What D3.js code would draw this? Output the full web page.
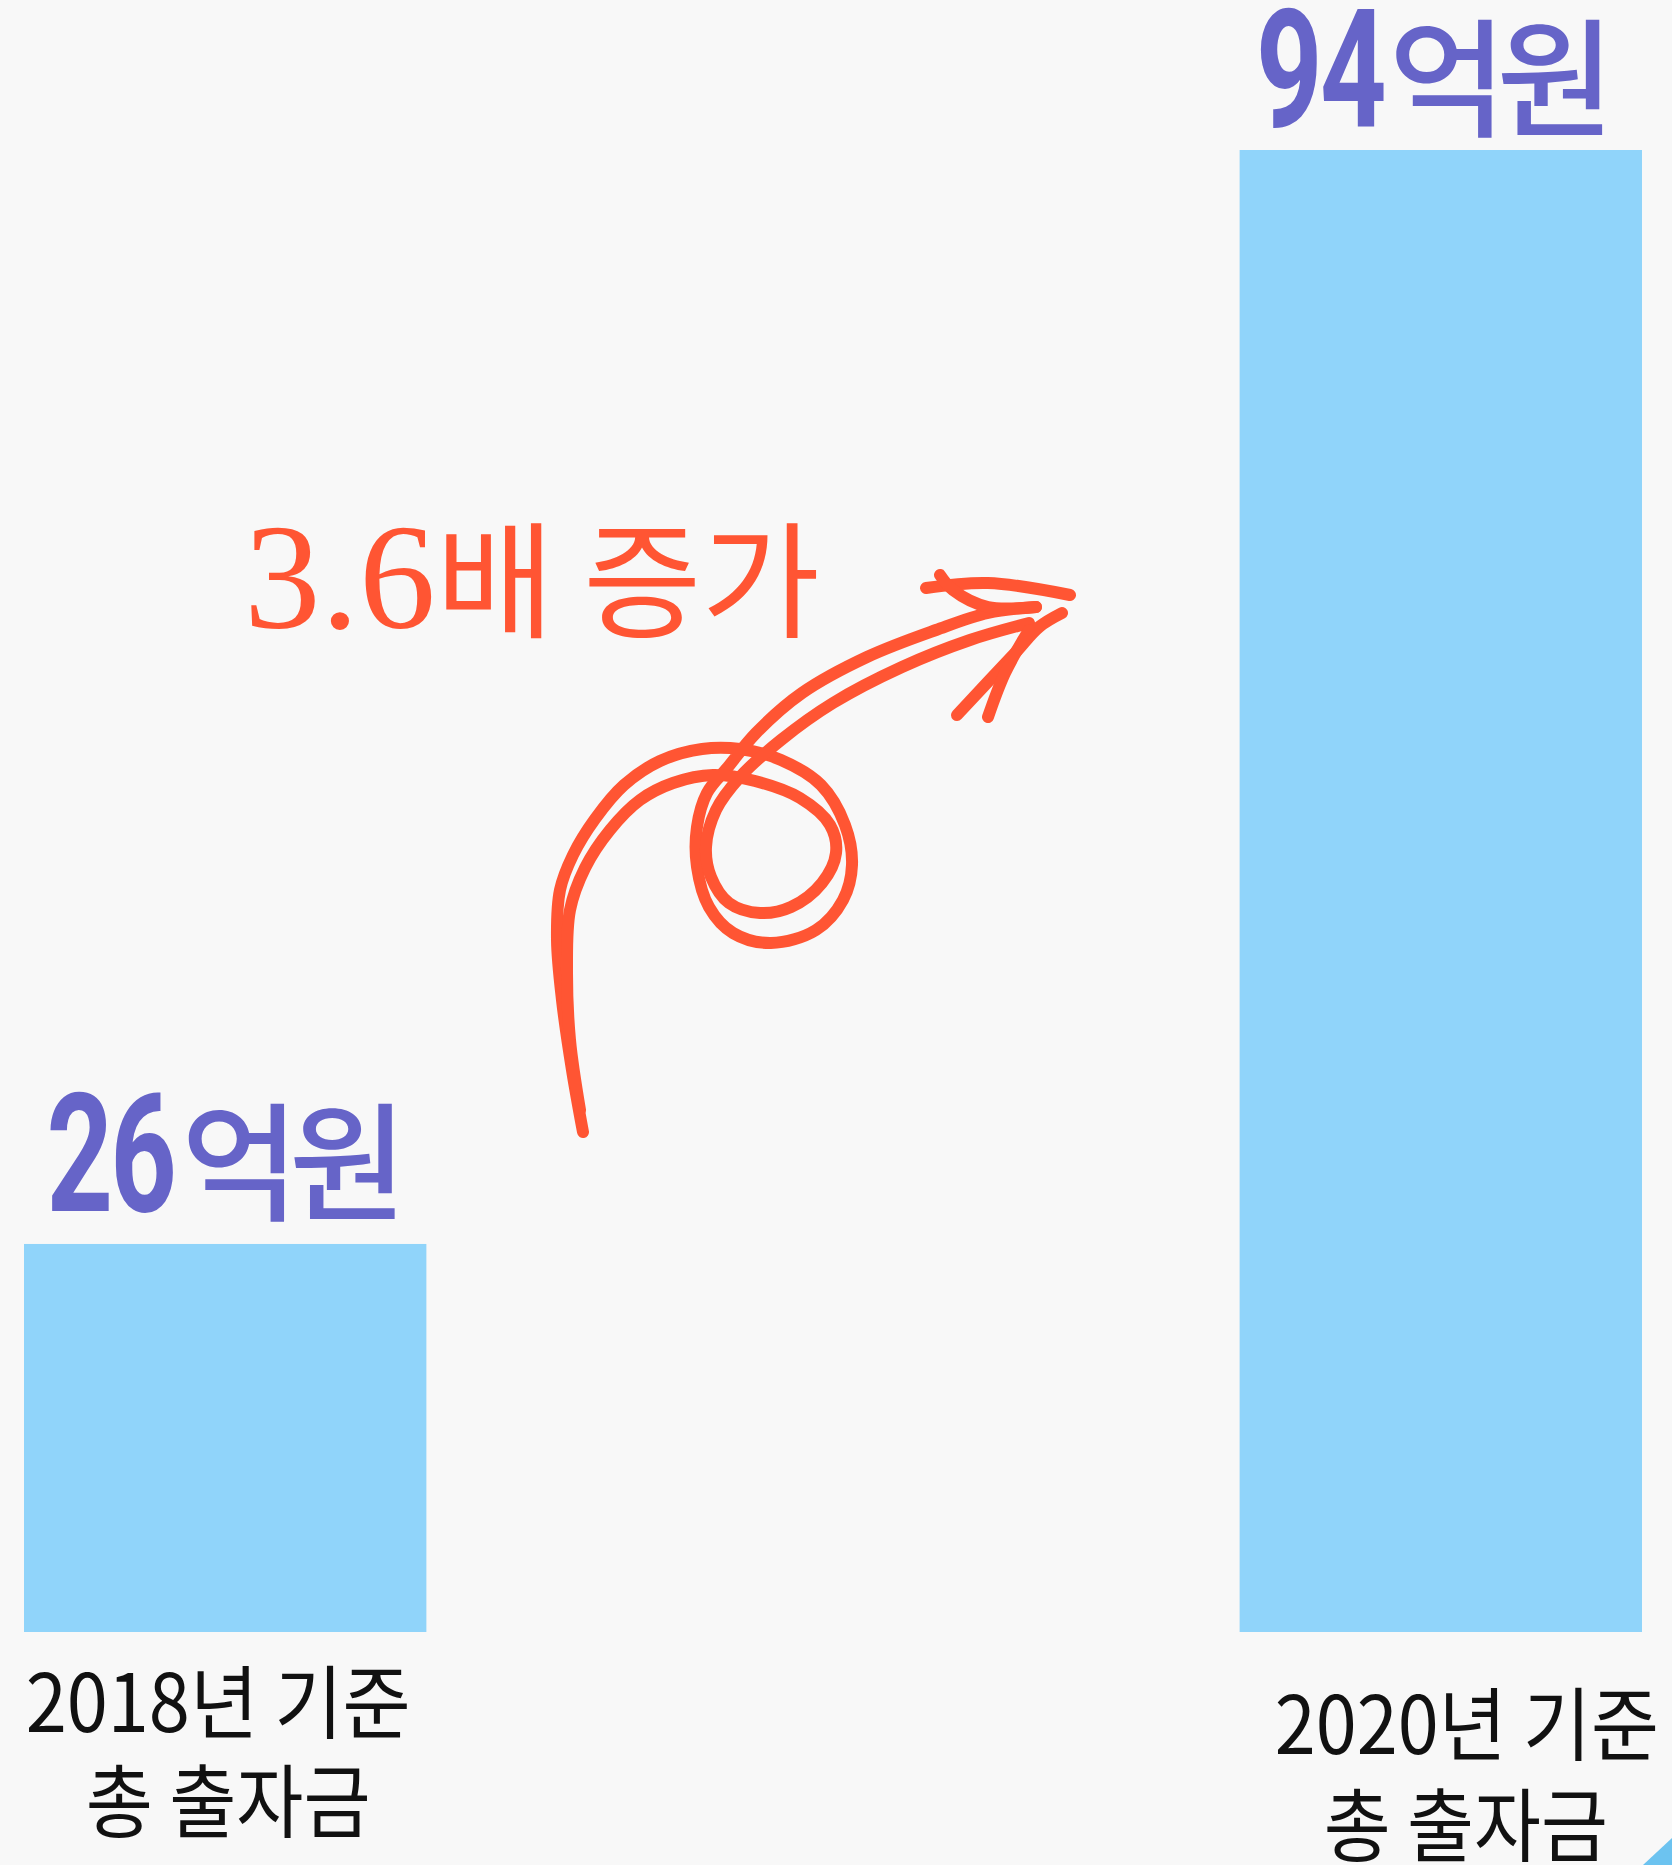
<!DOCTYPE html>
<html><head><meta charset="utf-8">
<script src="https://cdn.jsdelivr.net/npm/d3@7"></script>
<style>html,body{margin:0;padding:0;background:#f8f8f8;}svg{display:block;}</style>
</head><body>
<svg id="chart" width="1672" height="1865"></svg>
<script>
// ---- data ----
const categories = ["2018", "2020"];
const values = [26, 94];
const valueNumbers = ["26", "94"];
const valueUnits = ["억원", "억원"];
const labelLine1 = ["2018년 기준", "2020년 기준"];
const labelLine2 = ["총 출자금", "총 출자금"];
const annotationNum = "3.6";
const annotationText = "배 증가";

const W = 1672, H = 1865;
const svg = d3.select("#chart");
svg.append("rect").attr("width", W).attr("height", H).attr("fill", "#f8f8f8");

const x = d3.scaleBand().domain(categories).range([24, 1642]).paddingInner(0.669).paddingOuter(0);
const y = d3.scaleLinear().domain([1.88, 94]).range([1632, 150]);

const purple = "#6664c8", barColor = "#90d4fa", orange = "#ff5533";

// bars
svg.selectAll("rect.bar").data(values).join("rect").attr("class", "bar")
  .attr("x", (d, i) => x(categories[i])).attr("width", x.bandwidth())
  .attr("y", d => y(d)).attr("height", d => y.range()[0] - y(d))
  .attr("fill", barColor);

// value labels
const numDx = [-51, -57], unitDx = [-44, -52];
values.forEach((v, i) => {
  const cx = x(categories[i]) + x.bandwidth() / 2;
  const base = y(v) - 33 + (i === 1 ? 10 : 0);
  svg.append("text")
    .attr("transform", `translate(${cx + numDx[i]},${base}) scale(0.7,1)`)
    .attr("text-anchor", "end")
    .attr("font-family", "Roboto, sans-serif").attr("font-weight", 700)
    .attr("font-size", 166).attr("letter-spacing", -4).attr("fill", purple)
    .text(valueNumbers[i]);
  svg.append("text")
    .attr("x", cx + unitDx[i]).attr("y", base)
    .attr("font-family", "'Noto Sans CJK KR', sans-serif").attr("font-weight", 500)
    .attr("font-size", 128).attr("letter-spacing", -10).attr("fill", purple)
    .text(valueUnits[i]);
});

// category labels (two lines per bar)
const lblDx = [[-7, 3], [26, 25]], lblBase = [[1732, 1831], [1754, 1855]];
const lblW = [[385, 285], [384, 284]];
categories.forEach((c, i) => {
  const cx = x(c) + x.bandwidth() / 2;
  const t = svg.append("text")
    .attr("text-anchor", "middle")
    .attr("font-family", "'Noto Sans CJK KR', sans-serif").attr("font-weight", 400)
    .attr("font-size", 80).attr("fill", "#111");
  [labelLine1[i], labelLine2[i]].forEach((s, j) => {
    t.append("tspan")
      .attr("x", cx + lblDx[i][j]).attr("y", lblBase[i][j])
      .attr("textLength", lblW[i][j]).attr("lengthAdjust", "spacingAndGlyphs")
      .text(s);
  });
});

// annotation text
const ann = svg.append("text").attr("x", 244).attr("y", 628)
  .attr("font-family", "'Noto Sans CJK KR', sans-serif").attr("font-weight", 400)
  .attr("font-size", 126).attr("fill", orange)
  .attr("textLength", 576).attr("lengthAdjust", "spacingAndGlyphs");
ann.append("tspan").attr("font-family", "'Liberation Serif', 'DejaVu Serif', serif").attr("font-size", 150).text(annotationNum);
ann.append("tspan").text(annotationText);

// hand-drawn arrow (decoration)
const strokes = [
  [[583,1132],[572,1070],[562,1000],[557,940],[560,890],[573,855],[595,819],[624,785],[660,761],[702,749],[740,749],[781,760],[821,785],[845,825],[852,865],[843,900],[816,930],[771,943],[733,933],[709,907],[697,867],[697,827],[707,793],[728,767],[756,733],[802,693],[867,657],[936,630],[988,613],[1036,607]],
  [[580,1110],[570,1040],[567,970],[570,910],[585,868],[610,830],[640,800],[673,783],[713,775],[755,781],[800,798],[830,825],[836,853],[822,883],[791,907],[760,913],[729,903],[711,877],[706,847],[716,810],[740,777],[781,740],[833,703],[902,667],[970,640],[1029,623]],
  [[926,588],[988,583],[1070,595]],
  [[940,575],[953,590],[988,607],[1036,607]],
  [[1062,613],[1039,627],[1015,653],[957,715]],
  [[988,717],[1005,673],[1029,630]]
];
const line = d3.line().curve(d3.curveCatmullRom.alpha(0.5));
svg.selectAll("path.arrow").data(strokes).join("path").attr("class", "arrow")
  .attr("d", line).attr("fill", "none").attr("stroke", orange)
  .attr("stroke-width", 12).attr("stroke-linecap", "round").attr("stroke-linejoin", "round");

// corner decoration
svg.append("path").attr("d", "M1672,1838 L1672,1865 L1643,1865 Z").attr("fill", "#6cc3f0");
</script>
</body></html>
